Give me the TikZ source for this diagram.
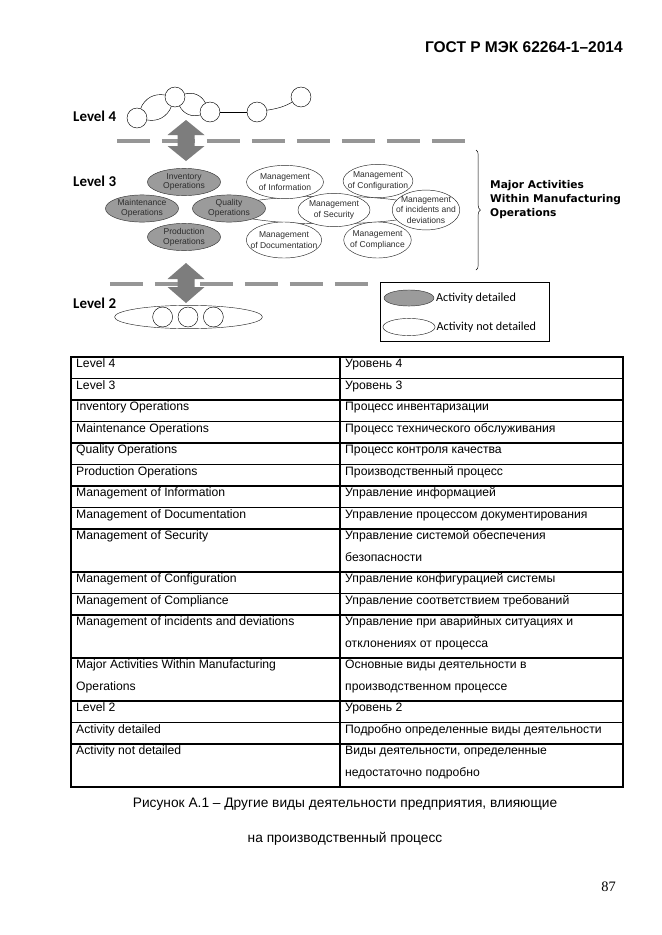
\documentclass[tikz,border=0pt]{standalone}
\usepackage{fontspec}
\setmainfont{Liberation Sans}
\newfontfamily\levelfont{Carlito}
\newfontfamily\majorfont{DejaVu Sans}
\newfontfamily\pagenumfont{Liberation Serif}
\usetikzlibrary{shapes.geometric,positioning,decorations.pathreplacing}
\definecolor{mydash}{RGB}{150,150,150}
\definecolor{myarrow}{RGB}{125,125,125}
\definecolor{mydetail}{RGB}{155,155,155}
\definecolor{mytext}{RGB}{45,45,45}
\tikzset{
  levellab/.style={anchor=base west,inner sep=0pt,font=\levelfont\bfseries\fontsize{13.5}{16}\selectfont},
  netnode/.style={circle,draw,fill=white,minimum size=18pt,inner sep=0pt},
  netlink/.style={thin},
  levelline/.style={line width=4pt,color=mydash,dash pattern=on 29.8pt off 10.8pt},
  blockarr/.style={fill=myarrow},
  actdet/.style={ellipse,draw=black!80,fill=mydetail,align=center,inner xsep=-8pt,inner ysep=0pt,
    minimum width=66pt,minimum height=24.5pt,text=mytext,font=\fontsize{7.7}{8.8}\selectfont},
  actnot/.style={ellipse,draw=black!85,fill=white,align=center,inner xsep=-8pt,inner ysep=0pt,
    minimum width=65pt,minimum height=30pt,text=mytext,font=\fontsize{7.7}{9.4}\selectfont},
  legbox/.style={rectangle,draw,semithick,inner sep=0pt},
  legtext/.style={inner sep=0pt,font=\levelfont\fontsize{11}{13}\selectfont},
  majortext/.style={anchor=base west,align=left,inner sep=0pt,font=\majorfont\bfseries\fontsize{9.6}{12.6}\selectfont},
  tline/.style={line width=1.1pt},
  tmid/.style={line width=1.8pt},
  cell/.style={anchor=base west,align=left,inner sep=0pt,font=\fontsize{11}{19.4}\selectfont},
  caption/.style={anchor=base,inner sep=0pt,font=\fontsize{12.4}{14}\selectfont},
}
\begin{document}
\begin{tikzpicture}[x=0.3172mm,y=-0.3172mm]
  \fill[white] (0,0) rectangle (662,935);
  \node[anchor=base east,inner sep=0pt,font=\bfseries\fontsize{14}{16}\selectfont] (gost) at (623,52.5) {ГОСТ Р МЭК 62264-1–2014};

  % level 4
  \node[levellab] (lvl4) at (73,121.5) {Level 4};
  \node[netnode] (c1) at (137,118) {};
  \node[netnode] (c2) at (175,97) {};
  \node[netnode] (c3) at (210,112) {};
  \node[netnode] (c4) at (257,112) {};
  \node[netnode] (c5) at (301,97) {};
  \draw[netlink] (c1) to[bend left=40] (c2); \draw[netlink] (c1) to[bend right=40] (c2);
  \draw[netlink] (c2) to[bend left=40] (c3); \draw[netlink] (c2) to[bend right=40] (c3);
  \draw[netlink] (c3) -- (c4);
  \draw[netlink] (c4) to[out=10,in=210] (c5);

  \draw[levelline] (117,141) -- (465,141);
  \fill[blockarr] (186,120) -- (204.5,135) -- (194.5,135) -- (194.5,146) -- (204.5,146) -- (186,161)
    -- (167.5,146) -- (177.5,146) -- (177.5,135) -- (167.5,135) -- cycle;

  % level 3
  \node[levellab] (lvl3) at (73,186) {Level 3};
  \node[actnot,minimum width=178pt,minimum height=25pt] (band) at (328,210) {};
  \node[actdet] (inv) at (184,182) {Inventory\\Operations};
  \node[actdet] (maint) at (142,208.5) {Maintenance\\Operations};
  \node[actdet] (qual) at (229,208.5) {Quality\\Operations};
  \node[actdet] (prod) at (184,237) {Production\\Operations};
  \node[actnot,minimum width=69.5pt] (info) at (285,182) {Management\\of Information};
  \node[actnot,minimum width=63pt] (conf) at (378,181) {Management\\of Configuration};
  \node[actnot,minimum width=68pt,minimum height=32.5pt] (docu) at (284,240) {Management\\of Documentation};
  \node[actnot,minimum width=61pt,minimum height=32.5pt] (compl) at (377.5,240) {Management\\of Compliance};
  \node[actnot] (sec) at (334,210) {Management\\of Security};
  \node[actnot,minimum width=61pt,minimum height=36pt] (inc) at (426,210) {Management\\of incidents and\\deviations};

  \coordinate (brtop) at (476,150);
  \coordinate (brbot) at (476,270);
  \draw[thin,decorate,decoration={brace,amplitude=4pt}] (brtop) -- (brbot);
  \node[majortext] (major) at (490,216) {Major Activities\\Within Manufacturing\\Operations};

  \draw[levelline] (110,284) -- (370,284);
  \fill[blockarr] (186,263) -- (204.5,279) -- (194.5,279) -- (194.5,287) -- (204.5,287) -- (186,303)
    -- (167.5,287) -- (177.5,287) -- (177.5,279) -- (167.5,279) -- cycle;

  % level 2
  \node[levellab] (lvl2) at (73,308) {Level 2};
  \node[actnot,minimum width=133.5pt,minimum height=21pt] (lvl2ell) at (188.5,317) {};
  \node[netnode] (d2) at (188,317) {};
  \node[netnode,left=4.5pt of d2] (d1) {};
  \node[netnode,right=4.5pt of d2] (d3) {};

  % legend
  \node[legbox,minimum width=152.5pt,minimum height=53.2pt] (leg) at (464.5,311.5) {};
  \node[actdet,minimum width=45pt,minimum height=14.5pt] (legdet) at (409,298) {};
  \node[legtext,right=1.5pt of legdet] (legdett) {Activity detailed};
  \node[actnot,minimum width=47pt,minimum height=15.5pt] (legnot) at (409,327) {};
  \node[legtext,right=1pt of legnot] (legnott) {Activity not detailed};

  % table
  \draw[tline] (71,357) rectangle (623,787);
  \foreach \yy in {378.5,400,421.5,443,464.5,486,507.5,529,572,593.5,615,658,701,722.5,744}
    \draw[tline] (71,\yy) -- (623,\yy);
  \draw[tmid] (340,357) -- (340,787);
  \node[cell] (l1) at (76,367.5) {Level 4};
  \node[cell] (r1) at (345,367.5) {Уровень 4};
  \node[cell] (l2) at (76,389) {Level 3};
  \node[cell] (r2) at (345,389) {Уровень 3};
  \node[cell] (l3) at (76,410.5) {Inventory Operations};
  \node[cell] (r3) at (345,410.5) {Процесс инвентаризации};
  \node[cell] (l4) at (76,432) {Maintenance Operations};
  \node[cell] (r4) at (345,432) {Процесс технического обслуживания};
  \node[cell] (l5) at (76,453.5) {Quality Operations};
  \node[cell] (r5) at (345,453.5) {Процесс контроля качества};
  \node[cell] (l6) at (76,475) {Production Operations};
  \node[cell] (r6) at (345,475) {Производственный процесс};
  \node[cell] (l7) at (76,496.5) {Management of Information};
  \node[cell] (r7) at (345,496.5) {Управление информацией};
  \node[cell] (l8) at (76,518) {Management of Documentation};
  \node[cell] (r8) at (345,518) {Управление процессом документирования};
  \node[cell] (l9) at (76,539.5) {Management of Security};
  \node[cell] (r9) at (345,561) {Управление системой обеспечения\\безопасности};
  \node[cell] (l10) at (76,582.5) {Management of Configuration};
  \node[cell] (r10) at (345,582.5) {Управление конфигурацией системы};
  \node[cell] (l11) at (76,604) {Management of Compliance};
  \node[cell] (r11) at (345,604) {Управление соответствием требований};
  \node[cell] (l12) at (76,625.5) {Management of incidents and deviations};
  \node[cell] (r12) at (345,647) {Управление при аварийных ситуациях и\\отклонениях от процесса};
  \node[cell] (l13) at (76,690) {Major Activities Within Manufacturing\\Operations};
  \node[cell] (r13) at (345,690) {Основные виды деятельности в\\производственном процессе};
  \node[cell] (l14) at (76,711.5) {Level 2};
  \node[cell] (r14) at (345,711.5) {Уровень 2};
  \node[cell] (l15) at (76,733) {Activity detailed};
  \node[cell] (r15) at (345,733) {Подробно определенные виды деятельности};
  \node[cell] (l16) at (76,754.5) {Activity not detailed};
  \node[cell] (r16) at (345,776) {Виды деятельности, определенные\\недостаточно подробно};

  \node[caption] (cap1) at (345,807.5) {Рисунок А.1 – Другие виды деятельности предприятия, влияющие};
  \node[caption] (cap2) at (345,842) {на производственный процесс};
  \node[anchor=base east,inner sep=0pt,font=\pagenumfont\fontsize{13}{15}\selectfont] (pnum) at (616,891) {87};
\end{tikzpicture}
\end{document}
